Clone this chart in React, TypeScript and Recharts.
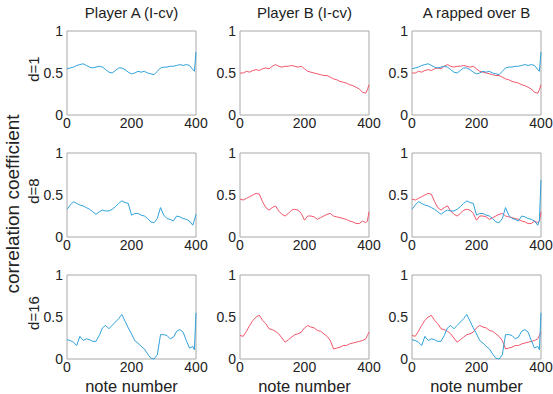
import React from 'react';
import { LineChart, Line, XAxis, YAxis, ReferenceArea } from 'recharts';

const noteNumbers = [0,10,20,30,40,50,60,70,80,90,100,110,120,130,140,150,160,170,180,190,200,210,220,230,240,250,260,270,280,290,300,310,320,330,340,350,360,370,380,390,395,400];

const playerA_d1 = [0.55,0.56,0.57,0.59,0.60,0.61,0.59,0.57,0.56,0.57,0.58,0.57,0.54,0.51,0.50,0.53,0.56,0.56,0.54,0.51,0.49,0.50,0.52,0.51,0.52,0.50,0.49,0.48,0.52,0.56,0.57,0.57,0.58,0.58,0.59,0.60,0.59,0.60,0.59,0.54,0.52,0.75];
const playerB_d1 = [0.50,0.50,0.52,0.51,0.53,0.54,0.53,0.55,0.56,0.55,0.58,0.60,0.58,0.57,0.58,0.58,0.59,0.58,0.57,0.58,0.55,0.52,0.51,0.50,0.49,0.48,0.47,0.47,0.45,0.43,0.42,0.40,0.39,0.38,0.36,0.35,0.33,0.31,0.27,0.26,0.30,0.36];
const playerA_d8 = [0.33,0.38,0.42,0.40,0.38,0.37,0.35,0.33,0.30,0.27,0.30,0.32,0.31,0.31,0.33,0.36,0.40,0.43,0.41,0.40,0.26,0.28,0.28,0.26,0.25,0.22,0.18,0.17,0.22,0.35,0.26,0.22,0.21,0.19,0.25,0.24,0.22,0.21,0.19,0.14,0.20,0.27];
const playerB_d8 = [0.45,0.44,0.46,0.48,0.50,0.52,0.51,0.42,0.35,0.32,0.35,0.37,0.31,0.27,0.25,0.28,0.32,0.33,0.32,0.28,0.20,0.25,0.25,0.24,0.21,0.23,0.25,0.27,0.28,0.25,0.24,0.23,0.22,0.21,0.19,0.18,0.16,0.16,0.19,0.17,0.19,0.30];
const playerA_d16 = [0.23,0.22,0.20,0.16,0.27,0.22,0.24,0.23,0.21,0.21,0.28,0.37,0.40,0.36,0.40,0.44,0.48,0.53,0.45,0.37,0.30,0.22,0.19,0.15,0.12,0.06,0.01,0.00,0.05,0.29,0.29,0.28,0.24,0.26,0.33,0.35,0.32,0.22,0.13,0.15,0.11,0.55];
const playerB_d16 = [0.28,0.27,0.33,0.40,0.46,0.50,0.52,0.46,0.42,0.36,0.35,0.33,0.30,0.25,0.20,0.23,0.26,0.29,0.30,0.32,0.37,0.40,0.38,0.37,0.34,0.33,0.30,0.27,0.22,0.12,0.13,0.14,0.16,0.16,0.18,0.19,0.20,0.21,0.22,0.24,0.28,0.32];
const rappedEndA = [0.75, 0.68, 0.55];

const columnTitles = ['Player A (I-cv)', 'Player B (I-cv)', 'A rapped over B'];
const rowLabels = ['d=1', 'd=8', 'd=16'];
const xTicks = [0, 200, 400];
const yTicks = [0, 0.5, 1];
const yAxisTitle = 'correlation coefficient';
const xAxisTitle = 'note number';

const seriesA = [playerA_d1, playerA_d8, playerA_d16];
const seriesB = [playerB_d1, playerB_d8, playerB_d16];

const BLUE = '#2fa2dc';
const RED = '#f2566c';
const FONT = 'Arial, "Liberation Sans", sans-serif';

const plotLefts = [67, 240, 412];
const plotTops = [31, 153, 275];
const PW = 129;
const PH = 84;
const YW = 30;
const XH = 22;
const MT = 8;
const MR = 12;

function Panel({ row, col }: { row: number; col: number }) {
  const a = seriesA[row];
  const b = seriesB[row];
  const data = noteNumbers.map((x, i) => ({
    x,
    a: col === 2 && i === noteNumbers.length - 1 ? rappedEndA[row] : a[i],
    b: b[i],
  }));
  const showA = col === 0 || col === 2;
  const showB = col === 1 || col === 2;
  return (
    <div style={{ position: 'absolute', left: plotLefts[col] - YW, top: plotTops[row] - MT }}>
      <LineChart width={YW + PW + MR} height={MT + PH + XH} data={data} margin={{ top: MT, right: MR, left: 0, bottom: 0 }}>
        <XAxis
          dataKey="x"
          type="number"
          domain={[0, 400]}
          ticks={xTicks}
          height={XH}
          axisLine={false}
          tickLine={false}
          tickSize={3}
          tickMargin={0}
          interval={0}
          tick={{ fontSize: 14, fill: '#222', fontFamily: FONT }}
        />
        <YAxis
          type="number"
          domain={[0, 1]}
          ticks={yTicks}
          width={YW}
          axisLine={false}
          tickLine={false}
          tickSize={3}
          tickMargin={1}
          interval={0}
          tick={{ fontSize: 14, fill: '#222', fontFamily: FONT }}
        />
        <ReferenceArea x1={0} x2={400} y1={0} y2={1} fill="none" stroke="#a8a8a8" strokeWidth={1} ifOverflow="visible" />
        {showB && (
          <Line type="linear" dataKey="b" stroke={RED} strokeWidth={1} dot={false} isAnimationActive={false} />
        )}
        {showA && (
          <Line type="linear" dataKey="a" stroke={BLUE} strokeWidth={1} dot={false} isAnimationActive={false} />
        )}
      </LineChart>
    </div>
  );
}

export default function App() {
  return (
    <div style={{ position: 'absolute', left: 0, top: 0, width: 553, height: 394, background: '#fff', overflow: 'hidden' }}>
      {[0, 1, 2].map((r) => [0, 1, 2].map((c) => <Panel key={`${r}-${c}`} row={r} col={c} />))}
      <svg width={553} height={394} style={{ position: 'absolute', left: 0, top: 0, pointerEvents: 'none' }}>
        {columnTitles.map((t, c) => (
          <text key={t} x={plotLefts[c] + PW / 2} y={12} textAnchor="middle" dominantBaseline="central" fontSize={15} fontFamily={FONT} fill="#222">
            {t}
          </text>
        ))}
        {rowLabels.map((t, r) => (
          <text key={t} x={33} y={plotTops[r] + PH / 2 - 4} textAnchor="middle" dominantBaseline="central" fontSize={15} fontFamily={FONT} fill="#222" transform={`rotate(-90 33 ${plotTops[r] + PH / 2 - 4})`}>
            {t}
          </text>
        ))}
        <text x={12} y={204} textAnchor="middle" dominantBaseline="central" fontSize={19} fontFamily={FONT} fill="#222" transform="rotate(-90 12 204)">
          {yAxisTitle}
        </text>
        {plotLefts.map((l, c) => (
          <text key={c} x={l + PW / 2} y={386} textAnchor="middle" dominantBaseline="central" fontSize={16.5} fontFamily={FONT} fill="#222">
            {xAxisTitle}
          </text>
        ))}
      </svg>
    </div>
  );
}
